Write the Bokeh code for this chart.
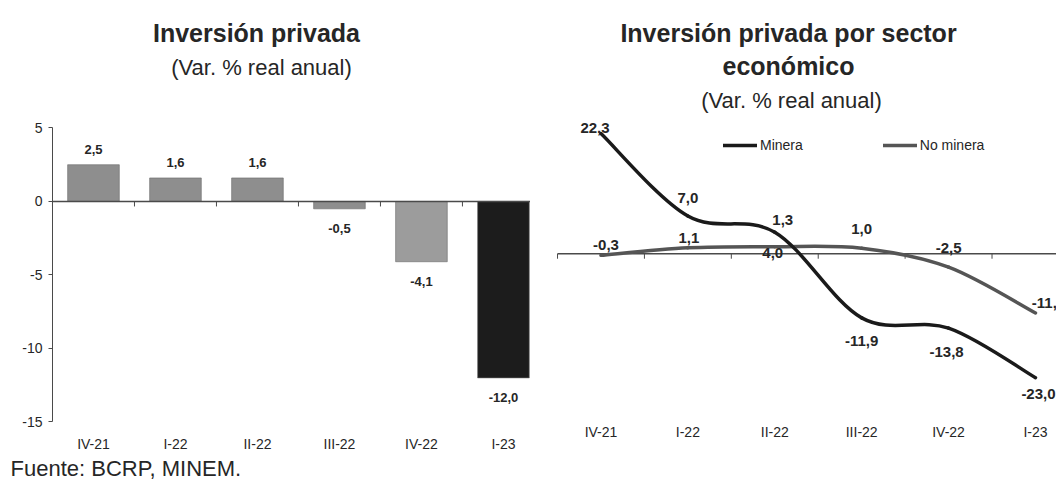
import math
from bokeh.plotting import figure
from bokeh.models import (Range1d, FixedTicker, ColumnDataSource, Legend, LegendItem,
                          Label)
from bokeh.layouts import row
from bokeh.embed import file_html
from bokeh.resources import INLINE
from bokeh.core.properties import value

# ---------------- data ----------------
quarters = ["IV-21", "I-22", "II-22", "III-22", "IV-22", "I-23"]
inversion = [2.5, 1.6, 1.6, -0.5, -4.1, -12.0]
minera = [22.3, 7.0, 4.0, -11.9, -13.8, -23.0]
no_minera = [-0.3, 1.1, 1.3, 1.0, -2.5, -11.0]
y_ticks_left = [-15, -10, -5, 0, 5]

# ---------------- style ----------------
FONT = "Liberation Sans"
TXT = "#262626"
AXIS = "#4a4a4a"
bar_colors = ["#8e8e8e", "#8e8e8e", "#8e8e8e", "#8e8e8e", "#9c9c9c", "#1c1c1c"]
minera_color = "#1a1a1a"
no_minera_color = "#555555"
# label offsets (screen px) for the line chart
minera_dx = [-6, 0, -2, 0, -2, 3]
minera_dy = [-6, -18, 21, 23, 24, 16]
no_minera_dx = [5, 1, 8, 0, 0, 13]
no_minera_dy = [-10, -10, -27, -19, -19, -10]
H = 485


def fmt(v):
    return f"{v:.1f}".replace(".", ",")


xc = [i + 0.5 for i in range(len(quarters))]
bounds = list(range(len(quarters) + 1))


def make_fig(width, xr, yr):
    p = figure(width=width, height=H, x_range=Range1d(*xr), y_range=Range1d(*yr),
               output_backend="svg", toolbar_location=None,
               min_border_left=0, min_border_right=0, min_border_top=0, min_border_bottom=0)
    p.xgrid.visible = False
    p.ygrid.visible = False
    p.outline_line_color = None
    p.background_fill_color = "white"
    p.border_fill_color = "white"
    return p


def label_axis(p, loc, standoff):
    ax = p.xaxis[0]
    ax.fixed_location = loc
    ax.ticker = FixedTicker(ticks=xc)
    ax.major_label_overrides = {x: q for x, q in zip(xc, quarters)}
    ax.axis_line_color = None
    ax.major_tick_line_color = None
    ax.minor_tick_line_color = None
    ax.major_label_standoff = standoff
    ax.major_label_text_font = FONT
    ax.major_label_text_font_size = "14px"
    ax.major_label_text_color = TXT
    # zero line starting at the first category boundary, with boundary ticks
    p.segment(x0=[bounds[0]], y0=[0], x1=[bounds[-1]], y1=[0],
              line_color=AXIS, line_width=1.5)
    p.ray(x=bounds, y=[0] * len(bounds), length=5, length_units="screen",
          angle=-math.pi / 2, line_color=AXIS, line_width=1)


def add_text(p, x, y, text, size, bold=False, align="center"):
    p.add_layout(Label(x=x, y=H - y, x_units="screen", y_units="screen", text=text,
                       text_align=align, text_baseline="middle", text_font=FONT,
                       text_font_size=size, text_font_style="bold" if bold else "normal",
                       text_color=TXT))


# ---------------- left: bars ----------------
left = make_fig(530, (-0.634, 5.83), (-19.32, 13.67))

src = ColumnDataSource(dict(
    x=xc, top=inversion, color=bar_colors,
    label=[fmt(v) for v in inversion],
    dy=[-15 if v >= 0 else 20 for v in inversion]))
left.vbar(x="x", top="top", bottom=0, width=0.63, fill_color="color",
          line_color="#6a6a6a", line_width=0.6, source=src)
left.text(x="x", y="top", text="label", y_offset="dy", text_align="center",
          text_baseline="middle", text_font=value(FONT), text_font_size="13px",
          text_font_style="bold", text_color=TXT, source=src)

label_axis(left, min(y_ticks_left), 8)
ya = left.yaxis[0]
ya.fixed_location = 0
ya.bounds = (min(y_ticks_left), max(y_ticks_left))
ya.ticker = FixedTicker(ticks=y_ticks_left)
ya.major_label_overrides = {t: str(t) for t in y_ticks_left}
ya.major_tick_out = 4
ya.major_tick_in = 0
ya.minor_tick_line_color = None
ya.axis_line_color = AXIS
ya.major_tick_line_color = AXIS
ya.major_label_standoff = 6
ya.major_label_text_font = FONT
ya.major_label_text_font_size = "14px"
ya.major_label_text_color = TXT

add_text(left, 256, 32, "Inversión privada", "25px", bold=True)
add_text(left, 261, 67, "(Var. % real anual)", "22px")
add_text(left, 10, 468, "Fuente: BCRP, MINEM.", "22px", align="left")

# ---------------- right: smoothed lines ----------------
right = make_fig(526, (-0.311, 5.742), (-43.0, 46.98))
right.yaxis.visible = False
label_axis(right, -30.3, 1)


def bezier_source(ys):
    pts = list(zip(xc, ys))
    n = len(pts)
    d = dict(x0=[], y0=[], x1=[], y1=[], cx0=[], cy0=[], cx1=[], cy1=[])
    for i in range(n - 1):
        p0 = pts[i - 1] if i > 0 else pts[i]
        p1 = pts[i]
        p2 = pts[i + 1]
        p3 = pts[i + 2] if i + 2 < n else pts[i + 1]
        d["x0"].append(p1[0]); d["y0"].append(p1[1])
        d["x1"].append(p2[0]); d["y1"].append(p2[1])
        d["cx0"].append(p1[0] + (p2[0] - p0[0]) / 6)
        d["cy0"].append(p1[1] + (p2[1] - p0[1]) / 6)
        d["cx1"].append(p2[0] - (p3[0] - p1[0]) / 6)
        d["cy1"].append(p2[1] - (p3[1] - p1[1]) / 6)
    return ColumnDataSource(d)


r_no = right.bezier(x0="x0", y0="y0", x1="x1", y1="y1", cx0="cx0", cy0="cy0",
                    cx1="cx1", cy1="cy1", line_color=no_minera_color, line_width=3.5,
                    line_cap="round", source=bezier_source(no_minera))
r_min = right.bezier(x0="x0", y0="y0", x1="x1", y1="y1", cx0="cx0", cy0="cy0",
                     cx1="cx1", cy1="cy1", line_color=minera_color, line_width=3.5,
                     line_cap="round", source=bezier_source(minera))

for ys, dx, dy in ((minera, minera_dx, minera_dy), (no_minera, no_minera_dx, no_minera_dy)):
    s = ColumnDataSource(dict(x=xc, y=ys, label=[fmt(v) for v in ys], dx=dx, dy=dy))
    right.text(x="x", y="y", text="label", x_offset="dx", y_offset="dy", text_align="center",
               text_baseline="middle", text_font=value(FONT), text_font_size="15px",
               text_font_style="bold", text_color=TXT, source=s)

legend = Legend(items=[LegendItem(label="Minera", renderers=[r_min]),
                       LegendItem(label="No minera", renderers=[r_no])],
                location=(193, 332), orientation="horizontal", spacing=80,
                glyph_width=34, glyph_height=14, label_standoff=3, padding=0, margin=0,
                border_line_color=None, background_fill_alpha=0,
                label_text_font=FONT, label_text_font_size="14px", label_text_color=TXT)
right.add_layout(legend)

add_text(right, 258, 32, "Inversión privada por sector", "25px", bold=True)
add_text(right, 258, 65, "económico", "25px", bold=True)
add_text(right, 261, 100, "(Var. % real anual)", "22px")

layout = row(left, right)
open("out.html", "w").write(file_html(layout, INLINE))
